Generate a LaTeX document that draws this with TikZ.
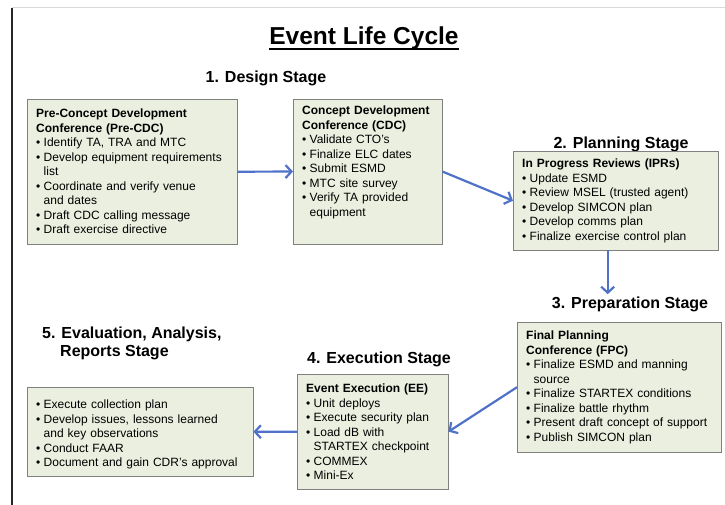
\documentclass[tikz,border=0pt]{standalone}
\usepackage{fontspec}
\setmainfont{Liberation Sans}
\usepackage{tikz}
\usetikzlibrary{arrows.meta}
\usetikzlibrary{positioning}
\usetikzlibrary{shadows}
\definecolor{boxfill}{RGB}{235,239,223}
\definecolor{boxline}{RGB}{128,128,128}
\definecolor{arrowblue}{RGB}{79,114,200}
\newcommand{\itm}{\par\hangindent=7.5pt\hangafter=1\makebox[7.5pt][l]{\textbullet}}

\begin{document}
\begin{tikzpicture}[x=1pt,y=-1pt]
	\tikzset{
		N/.style={draw=boxline,fill=boxfill,anchor=north west,align=left,inner xsep=9pt,inner ysep=7pt,
			font=\fontsize{12}{14.5}\selectfont,drop shadow={shadow xshift=1.2pt,shadow yshift=-1.2pt,opacity=0.25}},
		T/.style={anchor=base,inner sep=2pt,font=\bfseries\fontsize{16}{18}\selectfont},
		A/.style={arrowblue,line width=2.2pt,-{Straight Barb[length=6pt,width=13pt]}},
	}
	\useasboundingbox (0,0) rectangle (725,505);
	% frame
	\draw[black!15] (12,7) -- (725,7);
	\draw[black!85,line width=1.6pt] (12,8) -- (12,505);
	
	\node[anchor=base,inner sep=0pt,font=\bfseries\fontsize{24.5}{28}\selectfont] (0) at (364,45) {Event Life Cycle};
	\draw[line width=1.6pt] ([yshift=-4pt]0.base west) -- ([yshift=-4pt]0.base east);
	
	\node[T] (t1) at (266,83) {1. Design Stage};
	\node[T] (t2) at (621,149) {2. Planning Stage};
	\node[T] (t3) at (630,308) {3. Preparation Stage};
	\node[T] (t4) at (379,363) {4. Execution Stage};
	\node[T,anchor=base west,align=left,font=\bfseries\fontsize{16}{18}\selectfont] (t5) at (40,356)
		{5. Evaluation, Analysis,\\\hspace*{18pt}Reports Stage};
	
	\node[N,text width=192pt,minimum height=145pt] (1) at (27,99) {
		\textbf{Pre-Concept Development}\\
		\textbf{Conference (Pre-CDC)}
		\itm Identify TA, TRA and MTC
		\itm Develop equipment requirements\newline list
		\itm Coordinate and verify venue\newline and dates
		\itm Draft CDC calling message
		\itm Draft exercise directive
	};
	\node[N,text width=131pt] (2) at (293,99) {
		\textbf{Concept Development}\\
		\textbf{Conference (CDC)}
		\itm Validate CTO's
		\itm Finalize ELC dates
		\itm Submit ESMD
		\itm MTC site survey
		\itm Verify TA provided\newline equipment
		\par\nointerlineskip\vspace*{18pt}\hbox{}
	};
	\node[N,text width=187pt,minimum height=99pt] (3) at (513,151) {
		\textbf{In Progress Reviews (IPRs)}
		\itm Update ESMD
		\itm Review MSEL (trusted agent)
		\itm Develop SIMCON plan
		\itm Develop comms plan
		\itm Finalize exercise control plan
	};
	\node[N,text width=186pt,minimum height=130pt] (4) at (517,322) {
		\textbf{Final Planning}\\
		\textbf{Conference (FPC)}
		\itm Finalize ESMD and manning\newline source
		\itm Finalize STARTEX conditions
		\itm Finalize battle rhythm
		\itm Present draft concept of support
		\itm Publish SIMCON plan
	};
	\node[N,text width=133pt,minimum height=115pt] (5) at (297,374) {
		\textbf{Event Execution (EE)}
		\itm Unit deploys
		\itm Execute security plan
		\itm Load dB with\newline STARTEX checkpoint
		\itm COMMEX
		\itm Mini-Ex
	};
	\node[N,text width=208pt,minimum height=84pt] (6) at (27,387) {
		\itm Execute collection plan
		\itm Develop issues, lessons learned\newline and key observations
		\itm Conduct FAAR
		\itm Document and gain CDR's approval
	};
	
	\path[A]
	(1.east) edge (2.west)
	(2.east) edge (3.west)
	([xshift=-8pt]3.south) edge ([xshift=-8pt]3.south |- t3.north)
	(4.west) edge (5.east)
	(5.west) edge (6.east) ;
\end{tikzpicture}
\end{document}
